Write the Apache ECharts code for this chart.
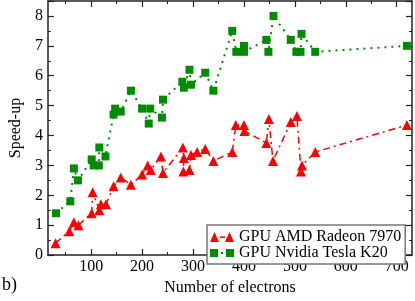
<!DOCTYPE html>
<html><head><meta charset="utf-8">
<script src="https://cdn.jsdelivr.net/npm/echarts@6/dist/echarts.min.js"></script>
<style>html,body{margin:0;padding:0;background:#fff}#c{width:415px;height:301px}</style>
</head><body><div id="c"></div>
<script>
const amdName = 'GPU AMD Radeon 7970';
const nvName = 'GPU Nvidia Tesla K20';
const amdX = [30,57,66,75,101,103,116,119,129,144,158,178,200,211,217,237,241,280,282,281,293,296,308,324,340,377,384,400,401,444,449,457,492,504,512,514,540,720];
const amdY = [0.4,0.8,1.1,1.0,1.4,2.1,1.5,1.7,1.7,2.3,2.6,2.35,2.7,3.0,2.85,3.3,2.75,3.6,3.25,2.8,2.85,3.35,3.45,3.55,3.15,3.45,4.35,4.35,4.15,3.75,4.55,3.15,4.45,4.65,2.8,3.0,3.45,4.35];
const nvX = [31,59,66,74,101,105,115,116,128,144,147,158,178,200,213,216,239,241,279,282,293,296,324,340,377,385,400,400,444,448,458,492,503,511,513,540,720];
const nvY = [1.4,1.8,2.9,2.5,3.2,3.0,3.0,3.6,3.3,4.7,4.9,4.8,5.5,4.9,4.4,4.9,4.6,5.2,5.8,5.6,6.2,5.7,6.1,5.5,7.5,6.8,7.0,6.8,7.2,6.8,8.0,7.2,6.8,6.8,7.4,6.8,7.0];
const xTicks = [100,200,300,400,500,600,700];
const xMinorTicks = [50,150,250,350,450,550,650];
const yTicks = [0,1,2,3,4,5,6,7,8];

const FONT = 'Liberation Serif';
const XMIN = 15, XMAX = 730;
function xAx(pos, major, withLabel) {
  const a = {
    type: 'value', position: pos, min: XMIN, max: XMAX,
    axisLine: {show: major, onZero: false, lineStyle: {color: '#222', width: 1.5}},
    axisTick: {show: true, inside: true, length: major ? 6 : 3, customValues: major ? xTicks : xMinorTicks,
      lineStyle: {color: '#222', width: major ? 1.2 : 1}},
    axisLabel: {show: false},
    splitLine: {show: false}
  };
  if (withLabel) {
    a.axisLabel = {show: true, customValues: xTicks, fontFamily: FONT, fontSize: 16, color: '#000', margin: 4};
    a.name = 'Number of electrons';
    a.nameLocation = 'middle';
    a.nameGap = 15;
    a.nameTextStyle = {fontFamily: FONT, fontSize: 16, color: '#000'};
  }
  return a;
}
const yCommon = {
  type: 'value', min: 0, max: 8.5, interval: 1,
  axisLine: {show: true, onZero: false, lineStyle: {color: '#222', width: 1.5}},
  axisTick: {show: true, inside: true, length: 6, lineStyle: {color: '#222', width: 1.2}},
  minorTick: {show: true, splitNumber: 2, length: 3, lineStyle: {color: '#222', width: 1}},
  splitLine: {show: false}
};
const chart = echarts.init(document.getElementById('c'), null, {renderer: 'canvas'});
chart.setOption({
  animation: false,
  backgroundColor: '#fff',
  grid: {left: 31, right: 3, top: 1, bottom: 32, containLabel: false},
  xAxis: [xAx('bottom', true, true), xAx('top', true, false), xAx('bottom', false, false), xAx('top', false, false)],
  yAxis: [
    Object.assign({}, yCommon, {position: 'left',
      name: 'Speed-up', nameLocation: 'middle', nameGap: 17, nameRotate: 90,
      nameTextStyle: {fontFamily: FONT, fontSize: 16, color: '#000'},
      axisLabel: {fontFamily: FONT, fontSize: 16, color: '#000', margin: 5, showMaxLabel: false,
        formatter: v => yTicks.includes(v) ? String(v) : ''}}),
    Object.assign({}, yCommon, {position: 'right', axisLabel: {show: false}})
  ],
  legend: {
    orient: 'vertical', left: 207, top: 225, padding: [4, 4, 3, 3],
    itemWidth: 24, itemHeight: 10, itemGap: 0,
    borderColor: '#777', borderWidth: 1.5, backgroundColor: '#fff',
    textStyle: {fontFamily: FONT, fontSize: 16, color: '#000', lineHeight: 14},
    data: [
      {name: amdName, icon: 'path://M0,10L4.5,0L9,10ZM10,4.5H15V6H10ZM15,10L19.5,0L24,10Z'},
      {name: nvName, icon: 'path://M0,1H8V9H0ZM11,4H13V6H11ZM16,1H24V9H16Z'}
    ]
  },
  graphic: [{type: 'text', left: 2, top: 276, style: {text: 'b)', font: '18px "Liberation Serif"', fill: '#000'}}],
  series: [
    {name: amdName, type: 'line', xAxisIndex: 0, yAxisIndex: 0,
      data: amdX.map((x, i) => [x, amdY[i]]),
      symbol: 'triangle', symbolSize: 10, itemStyle: {color: '#ff0000'},
      lineStyle: {color: '#ff0000', width: 1.5, type: [7, 4, 2, 4]}, z: 3},
    {name: nvName, type: 'line', xAxisIndex: 0, yAxisIndex: 0,
      data: nvX.map((x, i) => [x, nvY[i]]),
      symbol: 'rect', symbolSize: 8, itemStyle: {color: '#008c00'},
      lineStyle: {color: '#008c00', width: 2, type: [2, 5]}, z: 2}
  ]
});
</script></body></html>
